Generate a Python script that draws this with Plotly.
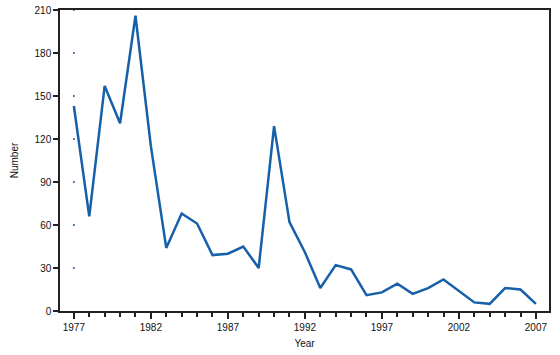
import plotly.graph_objects as go

years = list(range(1977, 2008))
counts = [143, 66, 157, 131, 206, 115, 44, 68, 61, 39, 40, 45, 30, 129, 62, 41,
          16, 32, 29, 11, 13, 19, 12, 16, 22, 14, 6, 5, 16, 15, 5]
x_tick_vals = [1977, 1982, 1987, 1992, 1997, 2002, 2007]
y_tick_vals = [0, 30, 60, 90, 120, 150, 180, 210]

font = dict(family="Liberation Sans, Arial, sans-serif", size=10, color="#111")

fig = go.Figure()
fig.add_trace(go.Scatter(
    x=years, y=counts, mode="lines",
    line=dict(color="#1660aa", width=2.5),
    showlegend=False, hoverinfo="x+y"))
# small gridline dots seen along 1977 in the reference
fig.add_trace(go.Scatter(
    x=[x_tick_vals[0]] * (len(y_tick_vals) - 1), y=y_tick_vals[1:], mode="markers",
    marker=dict(color="#1660aa", size=2), showlegend=False, hoverinfo="skip"))

fig.update_layout(
    width=560, height=355,
    margin=dict(l=60, r=11, t=10, b=44, autoexpand=False),
    paper_bgcolor="white", plot_bgcolor="white",
    font=font,
    xaxis=dict(
        range=[1976.1, 2007.85], automargin=False,
        tickvals=x_tick_vals, ticktext=[str(v) for v in x_tick_vals],
        ticks="outside", ticklen=6, tickwidth=2, tickcolor="#222",
        minor=dict(dtick=1, tick0=1977, ticks="outside", ticklen=4, tickwidth=1.5, tickcolor="#222"),
        showline=True, linecolor="#222", linewidth=1.5, mirror=True,
        showgrid=False, zeroline=False,
        title=dict(text="Year", font=font, standoff=8),
    ),
    yaxis=dict(
        range=[0, 210], automargin=False,
        tickvals=y_tick_vals,
        ticks="outside", ticklen=5, tickwidth=2, tickcolor="#222",
        showline=True, linecolor="#222", linewidth=1.5, mirror=True,
        showgrid=False, zeroline=False,
        title=dict(text="Number", font=font, standoff=14),
    ),
)

fig.write_html("out.html")
